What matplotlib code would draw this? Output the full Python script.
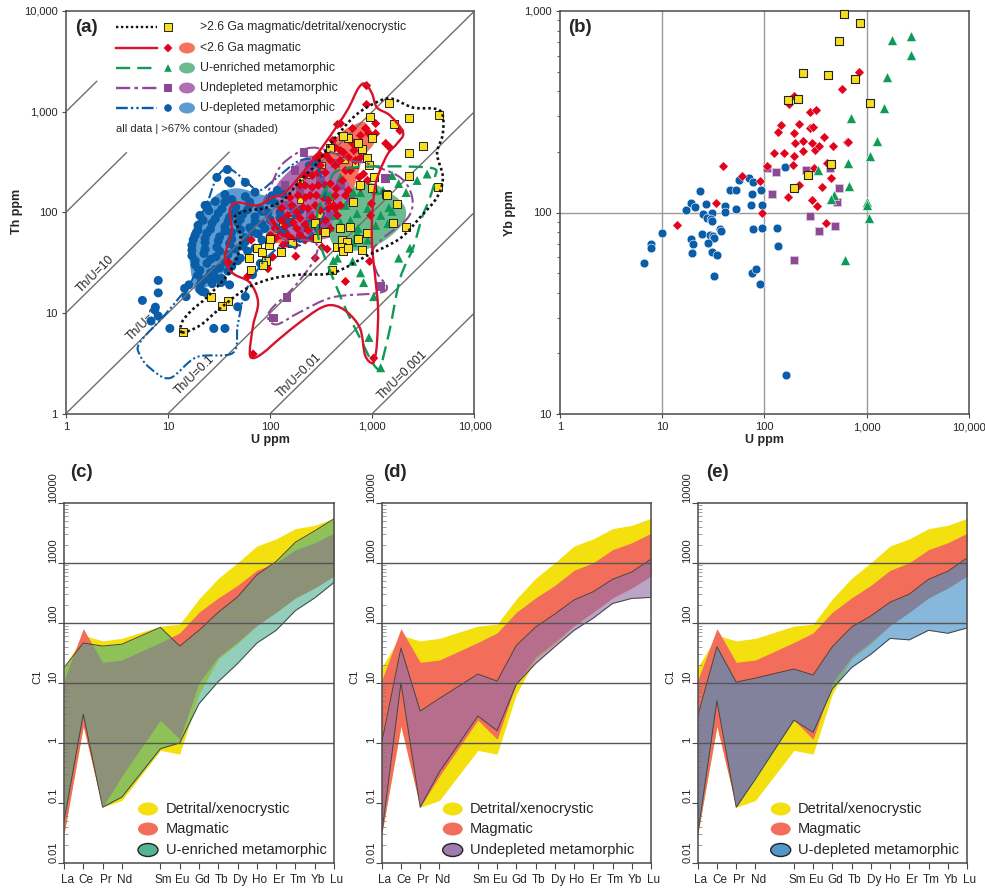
import numpy as np
import matplotlib
matplotlib.use("Agg")
import matplotlib.pyplot as plt
from matplotlib.path import Path
from matplotlib.patches import PathPatch, Ellipse
from matplotlib.ticker import FixedLocator, NullFormatter, FixedFormatter
from matplotlib.transforms import ScaledTranslation

plt.rcParams['font.family'] = ['Liberation Sans', 'DejaVu Sans']

W, H = 985, 890
FRAME = '#4a4a4a'
TXT = '#262626'

# ---------------- panel (a): contours (U ppm, Th ppm) ----------------
black_cont_u = [13.7,13.7,17,24,38,48,51,45,59,85,133,196,287,412,647,949,1490,2500,4600,4900,4300,4900,4300,2930,1870,887,412,196,106,59,32,20.5]
black_cont_th = [6.4,8.1,10.6,14.3,23.7,37,59,89,104,109,131,207,305,516,873,1150,1350,1097,1023,607,385,222,141,89,55,37,25,24,22,17.6,11,7.5]
red_cont_u = [848,993,1110,1490,2000,1745,1425,1190,1060,993,993,1060,1137,1110,1060,993,848,758,565,412,307,196,125,85,68,63,68,76,63,43,36,42,40,47,74,106,140,229,360,565,725]
red_cont_th = [1897,1510,1097,915,620,482,384,261,177,89,47,24,11,5.1,3.55,3.16,3.8,7,10.2,11.9,11.1,8.1,5.6,4,3.55,4.07,7.55,12.8,20,24.8,35.7,66,104,125,117,141,157,279,517,1023,1694]
green_cont_u = [540,3435,4110,3670,3070,2500,1870,1490,1270,1190,993,758,565,451,344,294,294,368]
green_cont_th = [272,279,222,141,89,44,22,7.05,3.55,2.7,3.24,5.6,10.2,17.6,35,59,112,185]
purple_cont_u = [229,360,605,887,1870,2450,2240,1270,993,1110,1390,1110,412,196,117,95,104,167,262,287,219,140,100,85,104,133]
purple_cont_th = [430,411,327,305,222,141,89,55,40,25,18,15.7,14.3,10.2,7.7,8.9,11.1,17.6,32,47,53,53,78,112,194,305]
blue_cont_u = [38,47,59,79,117,196,287,344,196,133,85,57,48,43,19,10.4,6.65,5.3,5.3,9.8,18,16.4,20.5,24,30]
blue_cont_th = [272,243,198,165,222,327,292,104,47,47,32,16,7.55,4,3.63,2.25,2.83,3.8,5.1,10.2,23.7,50,89,122,222]

# shaded >67 % contours
blue_sh_u = [18,16.4,26,45,89,140,175,100,57,39,23]
blue_sh_th = [17.6,53,131,173,147,147,83,66,47,28,17.6]
purple_sh_u = [111,156,245,385,605,633,431,196,119]
purple_sh_th = [165,261,366,292,185,104,59,53,74]
red_sh_u = [848,1060,811,725,565,360,196,106,104,156,307,483,647]
red_sh_th = [780,517,351,243,112,66,55,50,79,165,351,607,728]
green_sh_u = [1016,1870,2138,1745,1110,758,483,385,431,540,725]
green_sh_th = [194,131,93,66,47,42,42,56,93,147,185]

# ---------------- panel (a): points ----------------
yel_a_u = [1458,949,2288,4500,1632,578,993,3140,2288,793,887,929,1040,2288,4400,758,993,1361,385,516,725,647,1393,1745,1596,2138,275,344,287,451,505,565,505,516,578,793,725,887,403,605,483,74,83,97,100,128,62,65,91,85,26,39,34,163,14]
yel_a_th = [1230,894,873,936,762,553,553,451,384,421,343,292,222,227,177,185,173,151,440,579,493,125,147,122,78,71,79,63,55,45,53,51,45,41,44,42,54,62,26.5,72,69,44,40,47,54,40,35,26.5,33,30,14.3,13,11.6,50,6.4]
yel_in_u = [196,245,322,431,540,677,156,219,385,307,131,196]
yel_in_th = [131,232,292,411,327,292,93,69,131,93,74,207]
red_a_u = [487,455,877,877,1858,1352,1480,1077,858,640,1077,920,640,660,522,766,820,897,745,766,434,283,354,583,
           309,258,346,434,545,220,296,388,510,187,246,330,434,163,210,276,370,487,148,196,258,346,140,182,235,309,163,220,296,125,112,104,388,455,583,545,
           434,322,361,276,940,545,178,104,95,60,39,68,1030,65,146,175,980,961,106,
           220,296,388,487,610,766,545,410,309,196,258,346,443,610,487,684,156,220,283,370,129,182,235,309,416,129,168,220,283,148,196,258,112,133,100]
red_a_th = [762,745,1175,1815,649,483,440,762,680,680,606,606,483,411,392,350,240,207,222,177,440,350,367,350,
            292,232,248,292,260,185,185,192,207,147,147,140,147,117,112,117,109,117,93,87,89,83,72,69,66,63,55,53,79,59,69,79,69,93,165,147,
            109,45,43,35,32.5,20.5,36.5,36,27.5,23,32,3.9,3.55,53,49,47,122,93,36,
            232,248,327,411,517,579,579,517,367,185,177,185,172,260,327,327,140,140,147,131,110,100,109,104,117,83,79,76,72,59,59,55,55,47,59]
pur_a_u = [213,434,1352,1207,146,107,175,246,140,196,309,487,175,246,388,610,140,196,346]
pur_a_th = [393,305,217,18.4,14.3,8.9,260,260,185,165,207,185,104,93,93,131,117,66,74]
grn_a_u = [2742,3435,1810,2138,1560,1270,1077,766,650,1450,1560,897,708,1207,1077,1415,487,610,725,388,708,650,897,455,415,640,766,820,1030,1810,2330,925,1207,309,388,545,434,246,360,487]
grn_a_th = [207,240,193,157,232,165,165,157,157,111,102,109,97,93,74,77,79,83,69,71,62,50,53,35,33,32.5,25,20,14.5,35,44,5.7,2.85,117,147,117,93,74,155,222]
blu_a_u = [8.0,8.0,5.6,7.5,7.4,8.0,6.8,10.4,15,14.5,21.5,16,24,21,25,28,20.5,23,34,40,48,28,36,33,57,80,67,
           38,30,39,41,57,117,24,284,241,
           36,57,71,104,133,
           23,36,46,63,79,112,165,196,
           20.5,31,40,54,71,95,125,175,246,
           19.6,27,36,48,63,83,112,156,220,296,
           18.4,24,32,42,57,76,100,140,196,
           17.1,23,30,40,54,71,
           17.1,22.4,29.4,38.6,51,
           18.4,24,32,42,
           19.6,26,33.6,
           20.5,27,
           29,42,63,95,
           25,33.6,45,60,83,125,
           22,29,38.6,51,71,100,140,
           19.6,26,36,51,67,89,125,
           17.6,23,31,42,57,83,
           17.1,23,32,45,60,
           18.4,26,36,48,
           20.5,29,38.6,
           22,29.4]
blu_a_th = [21,15.8,13.3,11.4,10.7,9.3,8.3,7.0,14.5,17.5,16.3,19,22,20,22,24,17,16,21,19,11.5,7.0,7.0,20,14.5,31,24,
            266,222,205,195,198,165,117,305,290,
            150,143,158,146,152,
            117,126,112,120,109,122,112,105,
            93,98,89,96,90,99,88,95,87,
            74,78,72,79,70,76,71,79,73,69,
            59,62,57,63,56,61,58,62,55,
            47,50,45,49,46,44,
            37,39,36,38,35,
            30,31,28,29,
            23.7,25,22,
            18.7,19.5,
            128,134,126,132,
            104,108,100,106,102,100,
            83,86,81,85,80,84,82,
            66,68,65,67,64,69,66,
            53,55,52,54,51,53,
            42,43,41,43,41,
            33,34,32,33,
            26.5,27,26,
            21,22]

# ---------------- panel (b): points (U ppm, Yb ppm) ----------------
blu_b_u = [6.64,7.84,7.78,10,17,19,21,23.7,26.7,25,30.5,27.7,30,31,24.8,29.4,31.7,32,19.3,20.2,28.3,19.6,30.8,34.5,32,37,38,41,41,52.5,46,53,56,70,78,75,93,74,95,78,94,134,135,76,83,90,158,164]
blu_b_y = [56,69.5,66.7,79,103,111,107,128,110,98,100,93.5,93,90.8,78,77,76.4,74.5,73.6,70,70.8,62.7,64,61.5,48.2,83,81,108,101,104,129,130,145,149,142,123,129,109,109,83,84,84,68,50,52.5,44,169,15.7]
red_b_u = [13.9,33.4,39,61,90,94,107,125,154,190,195,135,146,172,217,176,195,217,197,201,239,238,280,321,280,298,291,314,346,387,474,309,408,450,367,295,326,402,641,661,569,846]
red_b_y = [86.6,111,171,151,144,100,170,197,198,173,191,250,272,120,137,345,378,275,247,222,226,201,316,323,262,265,221,204,215,236,213,167,177,148,134,115,108,88.7,223,225,408,498]
pur_b_u = [107,130,118,256,440,543,515,280,344,489,197]
pur_b_y = [166,159,124,162,166,133,113,96,81,86,58]
yel_b_u = [604,873,535,239,421,780,172,215,1092,450,270,193]
yel_b_y = [966,871,708,491,481,460,363,366,349,175,153,133]
grn_b_u = [1780,2712,2754,1592,1476,706,1270,1092,656,338,676,482,447,1021,1021,1069,617]
grn_b_y = [718,752,605,469,331,294,227,191,176,163,136,122,117,113,109,94,58]

# ---------------- panels (c-e): REE envelopes, chondrite normalised ----------------
ree_labels = ['La','Ce','Pr','Nd','Sm','Eu','Gd','Tb','Dy','Ho','Er','Tm','Yb','Lu']
ree_pos = [0,1,2,3,5,6,7,8,9,10,11,12,13,14]
det_hi = [18,62,50,55,88,95,250,550,1000,1900,2500,3700,4200,5500]
det_lo = [0.03,1.9,0.085,0.11,0.75,0.65,6.5,25,45,90,150,260,380,600]
mag_hi = [11,80,22,24,47,68,150,260,420,750,1000,1650,2150,3100]
mag_lo = [0.03,1.9,0.085,0.28,2.4,1.15,10,27,48,90,150,260,380,600]
enr_hi = [18,46,41,44,84,41,75,150,270,630,1050,2200,3400,5400]
enr_lo = [0.05,3,0.085,0.125,0.8,1,4.5,10.5,21,46,75,160,260,470]
und_hi = [1,38,3.4,5.5,14,10.7,42,85,140,240,330,530,700,1150]
und_lo = [0.03,10,0.085,0.33,2.8,1.6,9.5,21,40,75,120,210,255,265]
dep_hi = [2.8,40,10.3,12,17,13.5,40,85,130,220,300,530,720,1200]
dep_lo = [0.03,5,0.085,0.25,2.4,1.5,8,18,30,55,52,75,67,82]

C_YEL = '#f4e00f'
C_RED = '#f26e5a'


def add_axes(l, t, r, b):
    return fig.add_axes([l / W, 1 - b / H, (r - l) / W, (b - t) / H])


def smooth_closed(u, th):
    """Closed Catmull-Rom curve through contour points, built in log space."""
    p = np.log10(np.column_stack([u, th]))
    n = len(p)
    verts, codes = [p[0]], [Path.MOVETO]
    for i in range(n):
        p0, p1, p2, p3 = p[(i - 1) % n], p[i], p[(i + 1) % n], p[(i + 2) % n]
        verts += [p1 + (p2 - p0) / 6, p2 - (p3 - p1) / 6, p2]
        codes += [Path.CURVE4] * 3
    return Path(10 ** np.array(verts), codes)


def style_frame(ax, lw=1.1):
    for s in ax.spines.values():
        s.set_color(FRAME)
        s.set_linewidth(lw)


fig = plt.figure(figsize=(W / 100, H / 100), dpi=100)

# ---------------- (a) ----------------
axa = add_axes(66, 11, 474.5, 413.5)
axa.set_xscale('log'); axa.set_yscale('log')
axa.set_xlim(1, 10000); axa.set_ylim(1, 10000)
style_frame(axa)

dec = [1, 10, 100, 1000, 10000]
dec_lab = ['1', '10', '100', '1,000', '10,000']
axa.xaxis.set_major_locator(FixedLocator(dec)); axa.xaxis.set_major_formatter(FixedFormatter(dec_lab))
axa.yaxis.set_major_locator(FixedLocator(dec)); axa.yaxis.set_major_formatter(FixedFormatter(dec_lab))
axa.xaxis.set_minor_locator(FixedLocator([])); axa.yaxis.set_minor_locator(FixedLocator([]))
axa.tick_params(length=3, width=0.8, color=FRAME, labelsize=8, labelcolor=TXT, pad=3)

for su, st, col, z in [(blue_sh_u, blue_sh_th, '#5c9bd1', 1.1), (red_sh_u, red_sh_th, '#f4735e', 1.2),
                       (purple_sh_u, purple_sh_th, '#b06fb2', 1.3), (green_sh_u, green_sh_th, '#6cbb90', 1.4)]:
    axa.add_patch(PathPatch(smooth_closed(su, st), fc=col, ec='none', zorder=z))

# Th/U reference lines
ratio_lines = [(1000, 1, 2), (100, 1, 3.9), (10, 1, 39.5), (1, 1, 10000), (0.1, 10, 10000), (0.01, 100, 10000), (0.001, 1000, 10000)]
for ratio, u0, u1 in ratio_lines:
    axa.plot([u0, u1], [ratio * u0, ratio * u1], color='#6e6e6e', lw=1.0, zorder=3.5)

axa.scatter(yel_in_u, yel_in_th, marker='s', s=20, fc='#f7dd1e', ec='#222222', lw=0.6, zorder=2)
axa.scatter(blu_a_u, blu_a_th, marker='o', s=42, fc='#0a5ea8', ec='none', zorder=3)
axa.scatter(pur_a_u, pur_a_th, marker='s', s=38, fc='#8c4a93', ec='none', zorder=3.6)
axa.scatter(grn_a_u, grn_a_th, marker='^', s=42, fc='#0f9a58', ec='none', zorder=3.7)
axa.scatter(red_a_u, red_a_th, marker='D', s=22, fc='#e2001a', ec='none', zorder=3.8)
axa.scatter(yel_a_u, yel_a_th, marker='s', s=26, fc='#f7dd1e', ec='#222222', lw=0.7, zorder=4)

CONT = [(blue_cont_u, blue_cont_th, '#0a5ea8', (0, (5, 1.3, 1, 1.3, 1, 1.3)), 1.5),
        (purple_cont_u, purple_cont_th, '#8c4a93', (0, (6, 1.8, 1.5, 1.8)), 1.5),
        (green_cont_u, green_cont_th, '#0f9a58', (0, (6, 3)), 1.7),
        (red_cont_u, red_cont_th, '#d5142c', '-', 1.7),
        (black_cont_u, black_cont_th, '#111111', (0, (1, 1.1)), 1.9)]
for u, th, col, ls, lw in CONT:
    axa.add_patch(PathPatch(smooth_closed(u, th), fc='none', ec=col, ls=ls, lw=lw, zorder=5))


def fa(px, py):
    return (px - 66) / 408.5, (413.5 - py) / 402.5


rows = [(27, '#111111', (0, (1, 1.1)), 's', '#f7dd1e', None, '>2.6 Ga magmatic/detrital/xenocrystic'),
        (48, '#d5142c', '-', 'D', '#e2001a', '#f4735e', '<2.6 Ga magmatic'),
        (68, '#0f9a58', (0, (6, 3)), '^', '#0f9a58', '#6cbb90', 'U-enriched metamorphic'),
        (88, '#8c4a93', (0, (6, 1.8, 1.5, 1.8)), 's', '#8c4a93', '#b06fb2', 'Undepleted metamorphic'),
        (108, '#0a5ea8', (0, (5, 1.3, 1, 1.3, 1, 1.3)), 'o', '#0a5ea8', '#5c9bd1', 'U-depleted metamorphic')]
for py, col, ls, m, mc, sh, lab in rows:
    x0, y0 = fa(116, py); x1, _ = fa(157, py)
    axa.plot([x0, x1], [y0, y0], transform=axa.transAxes, color=col, ls=ls, lw=1.7, zorder=6)
    xm, _ = fa(168, py)
    axa.scatter([xm], [y0], transform=axa.transAxes, marker=m, s=30 if m != 'D' else 20, fc=mc,
                ec='#222222' if m == 's' and sh is None else 'none', lw=0.7, zorder=6)
    if sh:
        xe, _ = fa(187, py)
        axa.add_patch(Ellipse((xe, y0), 16 / 408.5, 11 / 402.5, transform=axa.transAxes, fc=sh, ec='none', zorder=6))
    xt, _ = fa(200, py)
    axa.text(xt, y0, lab, transform=axa.transAxes, fontsize=8.8, color=TXT, va='center', ha='left', zorder=6)
xn, yn = fa(116, 129)
axa.text(xn, yn, 'all data | >67% contour (shaded)', transform=axa.transAxes, fontsize=8, color=TXT, va='center', ha='left')

for lab, px, py in [('Th/U=10', 96, 274), ('Th/U=1', 143, 325), ('Th/U=0.1', 195, 375), ('Th/U=0.01', 299, 376), ('Th/U=0.001', 403, 375)]:
    xf, yf = fa(px, py)
    axa.text(xf, yf, lab, transform=axa.transAxes, fontsize=8.8, color=TXT, rotation=44.6, rotation_mode='anchor', ha='center', va='center', zorder=2)

axa.text(*fa(75, 27), '(a)', transform=axa.transAxes, fontsize=13.5, fontweight='bold', color=TXT, ha='left', va='center')
fig.text(270 / W, 1 - 440 / H, 'U ppm', fontsize=9, fontweight='bold', color=TXT, ha='center', va='center')
fig.text(17 / W, 1 - 211 / H, 'Th ppm', fontsize=9, fontweight='bold', color=TXT, ha='center', va='center', rotation=90)

# ---------------- (b) ----------------
axb = add_axes(560, 11, 968.7, 414)
axb.set_xscale('log'); axb.set_yscale('log')
axb.set_xlim(1, 10000); axb.set_ylim(10, 1000)
style_frame(axb)
axb.xaxis.set_major_locator(FixedLocator(dec)); axb.xaxis.set_major_formatter(FixedFormatter(dec_lab))
axb.yaxis.set_major_locator(FixedLocator([10, 100, 1000])); axb.yaxis.set_major_formatter(FixedFormatter(['10', '100', '1,000']))
axb.xaxis.set_minor_locator(FixedLocator([]))
axb.yaxis.set_minor_locator(FixedLocator([m * d for d in (10, 100) for m in range(2, 10)]))
axb.yaxis.set_minor_formatter(NullFormatter())
axb.tick_params(which='major', length=3, width=0.8, color=FRAME, labelsize=8, labelcolor=TXT, pad=3)
axb.tick_params(which='minor', length=2, width=0.6, color=FRAME)
for v in [10, 100, 1000]:
    axb.axvline(v, color='#9a9a9a', lw=1.0, zorder=1)
axb.axhline(100, color='#9a9a9a', lw=1.0, zorder=1)
axb.scatter(blu_b_u, blu_b_y, marker='o', s=40, fc='#0a5ea8', ec='white', lw=0.4, zorder=3)
axb.scatter(pur_b_u, pur_b_y, marker='s', s=40, fc='#8c4a93', ec='#d9c3dc', lw=0.6, zorder=3)
axb.scatter(red_b_u, red_b_y, marker='D', s=24, fc='#e2001a', ec='white', lw=0.3, zorder=3)
axb.scatter(grn_b_u, grn_b_y, marker='^', s=52, fc='#0f9a58', ec='white', lw=0.4, zorder=3)
axb.scatter(yel_b_u, yel_b_y, marker='s', s=38, fc='#f7dd1e', ec='#222222', lw=0.8, zorder=4, clip_on=False)
axb.text((568 - 560) / 408.7, (414 - 27) / 403, '(b)', transform=axb.transAxes, fontsize=13.5, fontweight='bold', color=TXT, ha='left', va='center')
fig.text(764 / W, 1 - 440 / H, 'U ppm', fontsize=9, fontweight='bold', color=TXT, ha='center', va='center')
fig.text(510 / W, 1 - 213 / H, 'Yb ppm', fontsize=9, fontweight='bold', color=TXT, ha='center', va='center', rotation=90)

# ---------------- (c), (d), (e) ----------------
PANELS = [('(c)', 64, 334, 70, enr_hi, enr_lo, (69, 172, 141), 0.58, 'U-enriched metamorphic', 84, 102, 37),
          ('(d)', 381.7, 651, 383, und_hi, und_lo, (150, 111, 169), 0.64, 'Undepleted metamorphic', 71, 88, 354),
          ('(e)', 697.7, 967, 706, dep_hi, dep_lo, (66, 142, 197), 0.635, 'U-depleted metamorphic', 83, 100, 670)]
yt = [0.01, 0.1, 1, 10, 100, 1000, 10000]
yl = ['0.01', '0.1', '1', '10', '100', '1000', '10000']
T, B = 502.7, 863
for name, L, R, xname, hi, lo, rgb, alpha, lab, ex, tx, c1x in PANELS:
    ax = add_axes(L, T, R, B)
    ax.set_yscale('log')
    ax.set_xlim(0, 14); ax.set_ylim(0.01, 10000)
    style_frame(ax)
    col = tuple(v / 255 for v in rgb)
    ax.fill_between(ree_pos, det_lo, det_hi, color=C_YEL, lw=0, zorder=1)
    ax.fill_between(ree_pos, mag_lo, mag_hi, color=C_RED, lw=0, zorder=1.2)
    ax.fill_between(ree_pos, lo, hi, color=col, alpha=alpha, lw=0, zorder=1.4)
    ax.plot(ree_pos, hi, color='#454545', lw=0.7, zorder=1.5)
    ax.plot(ree_pos, lo, color='#454545', lw=0.7, zorder=1.5)
    for v in [1, 10, 100, 1000]:
        ax.axhline(v, color='#555555', lw=1.0, zorder=2)
    ax.xaxis.set_major_locator(FixedLocator(ree_pos)); ax.xaxis.set_major_formatter(FixedFormatter(ree_labels))
    ax.yaxis.set_major_locator(FixedLocator(yt)); ax.yaxis.set_major_formatter(FixedFormatter(yl))
    ax.yaxis.set_minor_locator(FixedLocator([m * d for d in yt[:-1] for m in range(2, 10)]))
    ax.yaxis.set_minor_formatter(NullFormatter())
    ax.tick_params(axis='x', length=4, width=0.8, color=FRAME, labelsize=8.5, labelcolor=TXT, pad=4)
    ax.tick_params(axis='y', which='major', length=4, width=0.8, color=FRAME, labelsize=8, labelcolor=TXT, pad=0)
    ax.tick_params(axis='y', which='minor', direction='in', length=3, width=0.5, color='#777777')
    for t in ax.get_yticklabels():
        t.set_rotation(90); t.set_va('bottom'); t.set_rotation_mode('default')
    off = ScaledTranslation(3 / 100, 0, fig.dpi_scale_trans)
    for t in ax.get_xticklabels():
        t.set_transform(t.get_transform() + off)
    w, h = R - L, B - T
    meta_fc = tuple(0.92 * v + 0.08 for v in col)
    for py, fc, ec, text in [(809, C_YEL, 'none', 'Detrital/xenocrystic'), (829, C_RED, 'none', 'Magmatic'),
                             (850, meta_fc, '#222222', lab)]:
        ax.add_patch(Ellipse((ex / w, (B - py) / h), 20 / w, 13 / h, transform=ax.transAxes, fc=fc, ec=ec, lw=1.0, zorder=3))
        ax.text(tx / w, (B - py) / h, text, transform=ax.transAxes, fontsize=10.5, color=TXT, va='center', ha='left', zorder=3)
    fig.text(c1x / W, 1 - 677 / H, 'C1', fontsize=8, color=TXT, rotation=90, ha='center', va='center')
    fig.text(xname / W, 1 - 472 / H, name, fontsize=13.5, fontweight='bold', color=TXT, ha='left', va='center')

fig.savefig('out.png', dpi=100)
